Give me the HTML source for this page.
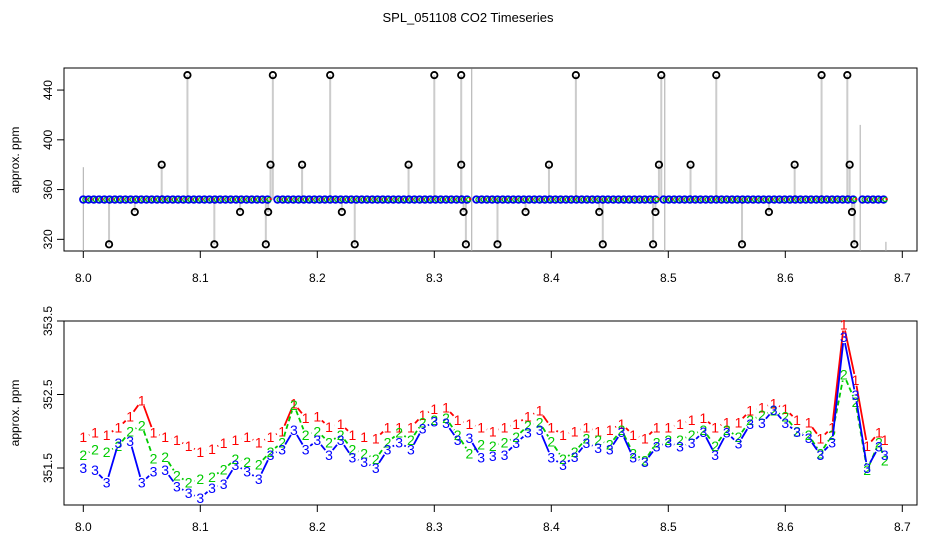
<!DOCTYPE html>
<html><head><meta charset="utf-8"><style>
html,body{margin:0;padding:0;background:#fff}
svg{display:block;font-family:"Liberation Sans",Arial,sans-serif}
</style></head><body>
<svg id="c" width="936" height="540" viewBox="0 0 936 540">
<rect width="936" height="540" fill="#fff"/>
<text x="468" y="22" font-size="13" text-anchor="middle">SPL_051108  CO2 Timeseries</text>
<g id="top"></g>
<g id="bot"></g>
</svg>
<script>
// ---- data ----
const xTicks = [8.0, 8.1, 8.2, 8.3, 8.4, 8.5, 8.6, 8.7];
const xTickLabels = ["8.0","8.1","8.2","8.3","8.4","8.5","8.6","8.7"];
const topYTicks = [320, 360, 400, 440];
const botYTicks = [351.5, 352.5, 353.5];
const baseSegments = [[8.0, 8.16], [8.166, 8.33], [8.336, 8.49], [8.496, 8.658], [8.666, 8.685]];
const baseLevel = 352;
const outlierTimes = [8.089,8.162,8.211,8.300,8.323,8.421,8.494,8.541,8.631,8.653,
  8.067,8.160,8.187,8.278,8.323,8.398,8.492,8.519,8.608,8.655,
  8.044,8.134,8.158,8.221,8.325,8.378,8.441,8.489,8.586,8.657,
  8.022,8.112,8.156,8.232,8.327,8.354,8.444,8.487,8.563,8.659];
const outlierValues = [452,452,452,452,452,452,452,452,452,452,
  380,380,380,380,380,380,380,380,380,380,
  342,342,342,342,342,342,342,342,342,342,
  316,316,316,316,316,316,316,316,316,316];
const spikeTimes = [8.0, 8.332, 8.497, 8.664, 8.686];
const spikeValues = [378, 457, 452, 412, 318];
const times = [8.00,8.01,8.02,8.03,8.04,8.05,8.06,8.07,8.08,8.09,8.10,8.11,8.12,8.13,8.14,8.15,8.16,8.17,8.18,8.19,8.20,8.21,8.22,8.23,8.24,8.25,8.26,8.27,8.28,8.29,8.30,8.31,8.32,8.33,8.34,8.35,8.36,8.37,8.38,8.39,8.40,8.41,8.42,8.43,8.44,8.45,8.46,8.47,8.48,8.49,8.50,8.51,8.52,8.53,8.54,8.55,8.56,8.57,8.58,8.59,8.60,8.61,8.62,8.63,8.64,8.65,8.66,8.67,8.68,8.685];
const series1 = [351.92,351.98,351.95,352.05,352.20,352.42,351.98,351.92,351.88,351.80,351.72,351.76,351.84,351.88,351.92,351.85,351.92,352.00,352.38,352.18,352.20,352.06,352.10,351.95,351.92,351.90,352.05,352.05,352.05,352.22,352.30,352.32,352.15,352.10,352.05,352.00,352.05,352.10,352.20,352.28,352.05,351.95,352.00,352.05,352.00,352.02,352.10,351.95,351.90,352.05,352.05,352.10,352.15,352.18,352.05,352.12,352.12,352.28,352.32,352.38,352.30,352.15,352.12,351.90,352.05,353.45,352.70,351.80,351.98,351.88];
const series2 = [351.68,351.75,351.72,351.80,352.00,352.08,351.63,351.65,351.40,351.30,351.35,351.38,351.48,351.62,351.58,351.55,351.72,351.85,352.36,351.95,352.00,351.85,351.95,351.75,351.70,351.62,351.85,351.98,351.88,352.12,352.15,352.18,351.95,351.70,351.82,351.80,351.85,351.92,352.08,352.12,351.86,351.62,351.72,351.90,351.88,351.82,352.02,351.70,351.60,351.85,351.88,351.88,351.95,352.02,351.80,352.02,351.92,352.15,352.22,352.28,352.20,352.00,351.95,351.70,351.95,352.77,352.40,351.47,351.85,351.60];
const series3 = [351.50,351.47,351.30,351.84,351.87,351.30,351.45,351.47,351.25,351.16,351.09,351.23,351.28,351.54,351.45,351.35,351.68,351.75,352.02,351.75,351.88,351.68,351.88,351.64,351.58,351.50,351.75,351.85,351.75,352.04,352.13,352.11,351.88,351.91,351.64,351.66,351.68,351.84,351.98,352.02,351.64,351.54,351.65,351.84,351.77,351.75,351.99,351.64,351.58,351.79,351.85,351.79,351.84,351.99,351.68,351.98,351.83,352.10,352.11,352.29,352.11,351.99,351.91,351.68,351.85,353.28,352.49,351.50,351.79,351.68];

// ---- helpers ----
const NS = "http://www.w3.org/2000/svg";
function mk(tag, attrs, parent){ const e=document.createElementNS(NS,tag); for(const k in attrs) e.setAttribute(k,attrs[k]); parent.appendChild(e); return e; }
const L = 64, R = 917;
const xs = t => 83.3 + (t - 8.0) * 1170;
const yTop = v => 164.7 - (v - 380) * 1.244;
const yBot = v => 468 - (v - 351.5) * 73.5;

function axes(g, top, bottom, yTicks, ys, labelY, ytitleY, prefix){
  const box = mk('rect',{x:L,y:top,width:R-L,height:bottom-top,fill:'none',stroke:'#000','stroke-width':1},g);
  
  
  xTicks.forEach((t,i)=>{
    const x = xs(t);
    const tk = mk('line',{x1:x,x2:x,y1:bottom,y2:bottom+7,stroke:'#000'},g);
    
    
    const tl = mk('text',{x:x,y:labelY,'font-size':12,'text-anchor':'middle'},g);
    tl.textContent = xTickLabels[i];
    
    
  });
  yTicks.forEach(v=>{
    const y = ys(v);
    const tk = mk('line',{x1:L-7,x2:L,y1:y,y2:y,stroke:'#000'},g);
    
    
    const tl = mk('text',{x:0,y:0,'font-size':12,'text-anchor':'middle',transform:`translate(52,${y}) rotate(-90)`},g);
    tl.textContent = String(v);
    
    
  });
  const yt = mk('text',{x:0,y:0,'font-size':12,'text-anchor':'middle',transform:`translate(19,${ytitleY}) rotate(-90)`},g);
  yt.textContent = 'approx. ppm';
  
  
}

// ---- top panel ----
const gt = document.getElementById('top');
axes(gt, 68, 251, topYTicks, yTop, 282, 160, 'top');
spikeTimes.forEach((t,i)=>{
  const ln = mk('line',{x1:xs(t),x2:xs(t),y1:251,y2:yTop(spikeValues[i]),stroke:'#aaa','stroke-width':1},gt);
  
  
});
outlierTimes.forEach((t,i)=>{
  const x = xs(t);
  const ln = mk('line',{x1:x,x2:x,y1:yTop(baseLevel),y2:yTop(outlierValues[i]),stroke:'#999','stroke-width':2,'stroke-dasharray':'1,1'},gt);
  
  
});
baseSegments.forEach(s=>{
  for(let t=s[0]; t<=s[1]+1e-9; t+=0.0045){
    const x = xs(t), y = yTop(baseLevel);
    const c1 = mk('circle',{cx:x,cy:y,r:3.3,fill:'none',stroke:'#0000ee','stroke-width':1.8},gt);
    
    
    const c2 = mk('circle',{cx:x+1.5,cy:y,r:2,fill:'none',stroke:'#00bb00','stroke-width':1.2},gt);
    
    
    const c3 = mk('circle',{cx:x+3,cy:y-0.5,r:1.1,fill:'#ff0000'},gt);
    
    
  }
});
outlierTimes.forEach((t,i)=>{
  const c = mk('circle',{cx:xs(t),cy:yTop(outlierValues[i]),r:3.2,fill:'none',stroke:'#000','stroke-width':1.8},gt);
  
  
});

// ---- bottom panel ----
const gb = document.getElementById('bot');
axes(gb, 321, 505, botYTicks, yBot, 531, 413, 'bottom');
const ser = [[series1,'#ff0000','1'],[series2,'#00cc00','2'],[series3,'#0000ff','3']];
const GAP = 6;
ser.forEach(([vals,col,ch],si)=>{
  const n = Math.min(vals.length, times.length);
  let d = '';
  for(let i=0;i<n-1;i++){
    const x1 = xs(times[i]), y1 = yBot(vals[i]), x2 = xs(times[i+1]), y2 = yBot(vals[i+1]);
    const len = Math.hypot(x2-x1, y2-y1);
    if (len <= 2*GAP) continue;
    const ux = (x2-x1)/len, uy = (y2-y1)/len;
    d += 'M'+(x1+ux*GAP).toFixed(1)+','+(y1+uy*GAP).toFixed(1)+'L'+(x2-ux*GAP).toFixed(1)+','+(y2-uy*GAP).toFixed(1);
  }
  const p = mk('path',{d:d,fill:'none',stroke:col,'stroke-width':1.8,'stroke-dasharray':si===1?'5,3':'none'},gb);
  
  
  for(let i=0;i<n;i++){
    const tx = mk('text',{x:xs(times[i]),y:yBot(vals[i])+5,'font-size':14,'text-anchor':'middle',fill:col},gb);
    tx.textContent = ch;
    
    
  }
});
</script>
</body></html>
